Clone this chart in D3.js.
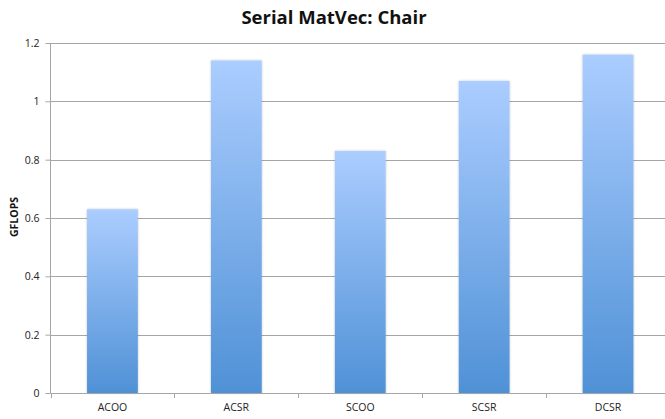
<!DOCTYPE html>
<html><head><meta charset="utf-8">
<script src="https://cdn.jsdelivr.net/npm/d3@7"></script>
<style>body{margin:0;background:#fff;} svg{display:block;}</style>
</head><body>
<svg id="c" width="665" height="419"></svg>
<script>
const categories = ["ACOO","ACSR","SCOO","SCSR","DCSR"];
const values = [0.63, 1.14, 0.83, 1.07, 1.16];
const yTicks = [0, 0.2, 0.4, 0.6, 0.8, 1, 1.2];
const title = "Serial MatVec: Chair";
const yLabel = "GFLOPS";

(function(){
const svg = d3.select("#c");
const mLeft = 50.5, mRight = 670, mTop = 43, mBottom = 393;
const x = d3.scaleBand().domain(categories).range([mLeft, mRight]).paddingInner(0.59).paddingOuter(0.295);
const y = d3.scaleLinear().domain([0, 1.2]).range([mBottom, mTop]);

const defs = svg.append("defs");
const g = defs.append("linearGradient").attr("id","bg").attr("x1",0).attr("y1",0).attr("x2",0).attr("y2",1);
g.append("stop").attr("offset","0%").attr("stop-color","#abcdff");
g.append("stop").attr("offset","100%").attr("stop-color","#4f91d6");
const f = defs.append("filter").attr("id","sh").attr("x","-20%").attr("y","-5%").attr("width","140%").attr("height","110%");
f.append("feDropShadow").attr("dx",0).attr("dy",0).attr("stdDeviation",1.2).attr("flood-color","#000").attr("flood-opacity",0.25);

svg.append("g").selectAll("line").data(yTicks.filter(d=>d>0)).join("line")
  .attr("x1", mLeft).attr("x2", 665).attr("y1", d=>Math.round(y(d))+0.5).attr("y2", d=>Math.round(y(d))+0.5)
  .attr("stroke","#a6a6a6").attr("stroke-width",1);

svg.append("g").selectAll("rect").data(values).join("rect")
  .attr("x",(d,i)=>x(categories[i])).attr("width",x.bandwidth())
  .attr("y",d=>y(d)).attr("height",d=>y(0)-y(d))
  .attr("fill","url(#bg)").attr("filter","url(#sh)");

const ya = svg.append("g").attr("transform",`translate(${mLeft},0)`)
  .call(d3.axisLeft(y).tickValues(yTicks).tickSize(5).tickPadding(6).tickFormat(d=>String(d)));
ya.select(".domain").attr("stroke","#a6a6a6").attr("d",`M0,${mTop}V${mBottom}`);
ya.selectAll(".tick line").attr("stroke","#a6a6a6");
ya.selectAll("text").attr("font-family","Open Sans, sans-serif").attr("font-size",10.5).attr("fill","#222");

const xa = svg.append("g").attr("transform",`translate(0,${mBottom+0.5})`)
  .call(d3.axisBottom(x).tickSize(0).tickPadding(10));
xa.select(".domain").attr("stroke","#a6a6a6").attr("d",`M${mLeft},0H665`);
xa.selectAll("text").attr("font-family","Open Sans, sans-serif").attr("font-size",10.5).attr("fill","#222");
const bounds = d3.range(categories.length+1).map(i=>mLeft + i*x.step());
svg.append("g").selectAll("line").data(bounds).join("line")
  .attr("x1",d=>Math.round(d)+0.5).attr("x2",d=>Math.round(d)+0.5).attr("y1",mBottom).attr("y2",mBottom+5)
  .attr("stroke","#a6a6a6");

svg.append("text").attr("x",334).attr("y",24).attr("text-anchor","middle")
  .attr("font-family","Open Sans, sans-serif").attr("font-weight","bold").attr("font-size",18.5)
  .attr("fill","#111").text(title);
svg.append("text").attr("transform",`translate(18,${217}) rotate(-90)`).attr("text-anchor","middle")
  .attr("font-family","Open Sans, sans-serif").attr("font-weight","bold").attr("font-size",10.5)
  .attr("fill","#111").text(yLabel);
})();
</script>
</body></html>
